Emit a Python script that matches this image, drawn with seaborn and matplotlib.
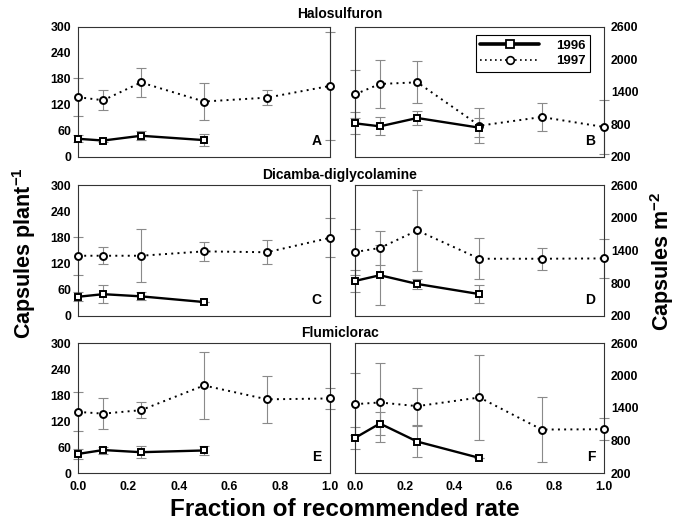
import numpy as np
import pandas as pd
import matplotlib
matplotlib.use("Agg")
import matplotlib.pyplot as plt
import seaborn as sns
from matplotlib.lines import Line2D

sns.set_style("ticks")
plt.rcParams['font.family'] = ['Liberation Sans', 'DejaVu Sans']
plt.rcParams['font.weight'] = 'bold'
plt.rcParams['text.color'] = 'black'
plt.rcParams['xtick.color'] = 'black'
plt.rcParams['ytick.color'] = 'black'
plt.rcParams['axes.labelcolor'] = 'black'
plt.rcParams['mathtext.fontset'] = 'custom'
plt.rcParams['mathtext.rm'] = 'Liberation Sans:bold'
plt.rcParams['mathtext.bf'] = 'Liberation Sans:bold'

# ---- data ----
rate_1996 = [0.0, 0.1, 0.25, 0.5]
rate_1997 = [0.0, 0.1, 0.25, 0.5, 0.75, 1.0]

herbicides = ["Halosulfuron", "Dicamba-diglycolamine", "Flumiclorac"]
panel_letters = [["A", "B"], ["C", "D"], ["E", "F"]]

# capsules per plant
halo_plant_96 = [42, 38, 49, 39]
halo_plant_96_err = [8, 4, 10, 14]
halo_plant_97 = [138, 131, 172, 128, 137, 164]
halo_plant_97_err = [44, 23, 34, 42, 17, 124]

dic_plant_96 = [44, 50, 45, 32]
dic_plant_96_err = [10, 21, 9, 0]
dic_plant_97 = [138, 138, 138, 148, 146, 179]
dic_plant_97_err = [43, 19, 61, 21, 27, 45]

flu_plant_96 = [44, 53, 48, 52]
flu_plant_96_err = [12, 8, 14, 10]
flu_plant_97 = [141, 137, 145, 202, 170, 172]
flu_plant_97_err = [45, 36, 18, 77, 54, 24]

# capsules per m2
halo_m2_96 = [822, 766, 920, 741]
halo_m2_96_err = [200, 165, 130, 180]
halo_m2_97 = [1357, 1548, 1579, 778, 938, 754]
halo_m2_97_err = [440, 440, 385, 320, 265, 500]

dic_m2_96 = [842, 947, 787, 601]
dic_m2_96_err = [200, 550, 90, 160]
dic_m2_97 = [1372, 1446, 1767, 1249, 1249, 1255]
dic_m2_97_err = [420, 310, 745, 375, 200, 350]

flu_m2_96 = [848, 1113, 780, 478]
flu_m2_96_err = [200, 205, 285, 0]
flu_m2_97 = [1471, 1502, 1434, 1594, 1002, 1008]
flu_m2_97_err = [570, 730, 340, 780, 605, 200]

plant_ticks = [0, 60, 120, 180, 240, 300]
m2_ticks = [200, 800, 1400, 2000, 2600]
x_ticks = [0.0, 0.2, 0.4, 0.6, 0.8, 1.0]

panels = [
    [(halo_plant_96, halo_plant_96_err, halo_plant_97, halo_plant_97_err),
     (halo_m2_96, halo_m2_96_err, halo_m2_97, halo_m2_97_err)],
    [(dic_plant_96, dic_plant_96_err, dic_plant_97, dic_plant_97_err),
     (dic_m2_96, dic_m2_96_err, dic_m2_97, dic_m2_97_err)],
    [(flu_plant_96, flu_plant_96_err, flu_plant_97, flu_plant_97_err),
     (flu_m2_96, flu_m2_96_err, flu_m2_97, flu_m2_97_err)],
]

W, H = 675, 527
fig = plt.figure(figsize=(6.75, 5.27), dpi=100)

col_x = [(78, 330), (355, 604)]
row_y = [(27, 157), (185, 316), (343, 473)]
title_y = [14, 175, 333]

err_color = '#8a8a8a'
for r in range(3):
    for c in range(2):
        x0, x1 = col_x[c]
        y0, y1 = row_y[r]
        ax = fig.add_axes([x0 / W, 1 - y1 / H, (x1 - x0) / W, (y1 - y0) / H])
        y96, e96, y97, e97 = panels[r][c]
        d96 = pd.DataFrame({"rate": rate_1996, "val": y96})
        d97 = pd.DataFrame({"rate": rate_1997, "val": y97})
        ax.errorbar(rate_1997, y97, yerr=e97, fmt='none', ecolor=err_color,
                    elinewidth=0.8, capsize=3.6, capthick=0.8, clip_on=False, zorder=2)
        ax.errorbar(rate_1996, y96, yerr=e96, fmt='none', ecolor=err_color,
                    elinewidth=0.8, capsize=3.6, capthick=0.8, clip_on=False, zorder=2)
        sns.lineplot(data=d97, x="rate", y="val", ax=ax, color='black',
                     linestyle=(0, (1, 2.2)), linewidth=1.4, marker='o',
                     markersize=5, markerfacecolor='white', markeredgecolor='black',
                     markeredgewidth=1.4, clip_on=False, zorder=3)
        sns.lineplot(data=d96, x="rate", y="val", ax=ax, color='black',
                     linestyle='-', linewidth=1.7, marker='s',
                     markersize=5, markerfacecolor='white', markeredgecolor='black',
                     markeredgewidth=1.4, clip_on=False, zorder=4)
        ax.set_xlim(0, 1)
        ax.set_xticks(x_ticks)
        if c == 0:
            ax.set_ylim(0, 300)
            ax.set_yticks(plant_ticks)
            ax.tick_params(axis='y', left=True, right=False, labelleft=True,
                           labelright=False, length=0, pad=5, labelsize=8.8)
        else:
            ax.set_ylim(200, 2600)
            ax.set_yticks(m2_ticks)
            ax.yaxis.tick_right()
            ax.tick_params(axis='y', left=False, right=True, labelleft=False,
                           labelright=True, length=0, pad=5, labelsize=8.8)
        ax.tick_params(axis='x', length=0, pad=6, labelsize=8.8,
                       labelbottom=(r == 2))
        ax.set_xticklabels([f"{v:.1f}" for v in x_ticks])
        ax.set_xlabel("")
        ax.set_ylabel("")
        for s in ax.spines.values():
            s.set_visible(True)
            s.set_linewidth(0.8)
            s.set_color('#333333')
        for lab in ax.get_xticklabels() + ax.get_yticklabels():
            lab.set_fontweight('bold')
        ax.text(0.965, 0.07, panel_letters[r][c], transform=ax.transAxes,
                ha='right', va='bottom', fontsize=10, fontweight='bold')
        if r == 0 and c == 1:
            handles = [
                Line2D([], [], color='black', linestyle='-', linewidth=2.6, marker='s',
                       markersize=6, markerfacecolor='white', markeredgewidth=1.3),
                Line2D([], [], color='black', linestyle=(0, (1, 2)), linewidth=1.2, marker='o',
                       markersize=5.5, markerfacecolor='white', markeredgewidth=1.2),
            ]
            leg = ax.legend(handles, ["1996", "1997"], loc='upper right',
                            bbox_to_anchor=(0.97, 0.99), frameon=True, fancybox=False,
                            edgecolor='black', framealpha=1, handlelength=4.4,
                            prop={'weight': 'bold', 'size': 9.5},
                            borderpad=0.35, labelspacing=0.25, handletextpad=1.3)
            leg.get_frame().set_linewidth(0.8)
    fig.text(340 / W, 1 - title_y[r] / H, herbicides[r], ha='center', va='center',
             fontsize=10, fontweight='bold')

fig.text(24 / W, 1 - 253 / H, r"Capsules plant$^{-1}$", rotation=90, ha='center',
         va='center', fontsize=15.5, fontweight='bold')
fig.text(662 / W, 1 - 261 / H, r"Capsules m$^{-2}$", rotation=90, ha='center',
         va='center', fontsize=15.5, fontweight='bold')
fig.text(345 / W, 1 - 509 / H, "Fraction of recommended rate", ha='center',
         va='center', fontsize=17.5, fontweight='bold')

fig.savefig("out.png", dpi=100, facecolor='white')
